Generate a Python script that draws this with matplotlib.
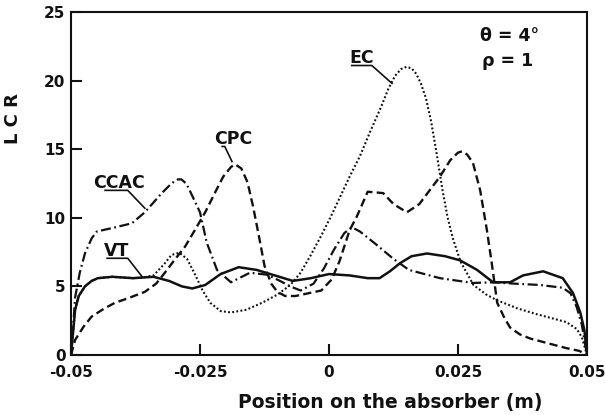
import numpy as np
import matplotlib
matplotlib.use("Agg")
import matplotlib.pyplot as plt

# values (theta = 4 deg, rho = 1)

vt_x = [-0.05, -0.0492, -0.0485, -0.0473, -0.046, -0.0448, -0.042, -0.038, -0.036, -0.034,
        -0.031, -0.0285, -0.0265, -0.024, -0.021, -0.0175, -0.014, -0.0105, -0.007, -0.0035,
        0.0, 0.004, 0.0075, 0.0098, 0.0118, 0.0138, 0.016, 0.019, 0.0225, 0.0254, 0.0287,
        0.0318, 0.0351, 0.0376, 0.0415, 0.0453, 0.0473, 0.0487, 0.0495, 0.05]
vt_y = [0, 3.3, 4.3, 5.0, 5.4, 5.6, 5.7, 5.6, 5.65, 5.7,
        5.4, 5.0, 4.85, 5.1, 5.9, 6.4, 6.2, 5.8, 5.4, 5.6,
        5.9, 5.8, 5.6, 5.6, 6.1, 6.7, 7.2, 7.4, 7.2, 6.9, 6.2,
        5.3, 5.3, 5.8, 6.1, 5.6, 4.5, 3.1, 1.8, 0]

ccac_x = [-0.05, -0.0495, -0.0492, -0.0483, -0.0473, -0.046, -0.045, -0.0415, -0.0382, -0.0357,
          -0.0324, -0.0308, -0.030, -0.0293, -0.0286, -0.0277, -0.027, -0.025, -0.0237, -0.0217,
          -0.019, -0.0153, -0.012, -0.0095, -0.0075, -0.0055, -0.003, -0.001, 0.001, 0.003,
          0.0045, 0.006, 0.009, 0.0125, 0.0155, 0.0185, 0.0215, 0.0279, 0.032, 0.036,
          0.041, 0.0453, 0.0468, 0.048, 0.049, 0.05]
ccac_y = [0, 2.5, 4.2, 6.0, 7.4, 8.5, 9.0, 9.3, 9.6, 10.4,
          11.8, 12.4, 12.65, 12.8, 12.8, 12.5, 12.0, 10.4, 8.2, 6.2,
          5.3, 6.0, 5.85, 5.4, 5.0, 4.7, 5.2, 6.3, 7.7, 8.9,
          9.3, 9.0, 8.1, 7.0, 6.2, 5.9, 5.6, 5.25, 5.3, 5.2,
          5.1, 4.9, 4.5, 3.5, 2.2, 0]

cpc_x = [-0.05, -0.0492, -0.0475, -0.046, -0.0435, -0.0415, -0.0385, -0.0357, -0.0335, -0.0318,
         -0.03, -0.0279, -0.026, -0.024, -0.022, -0.0205, -0.019, -0.0182, -0.017, -0.0158,
         -0.0147, -0.0135, -0.0125, -0.0112, -0.010, -0.0085, -0.0065, -0.004, -0.0015, 0.0005,
         0.002, 0.004, 0.0054, 0.0075, 0.0105, 0.0125, 0.0151, 0.0175, 0.0215, 0.0235,
         0.025, 0.0258, 0.0268, 0.0279, 0.0293, 0.0306, 0.0315, 0.0326, 0.034, 0.0351,
         0.037, 0.039, 0.043, 0.046, 0.0485, 0.05]
cpc_y = [0, 1.1, 2.1, 2.8, 3.4, 3.8, 4.2, 4.6, 5.2, 6.0,
         6.9, 7.9, 9.1, 10.4, 11.9, 13.0, 13.7, 13.9, 13.6, 12.6,
         10.8, 8.5, 6.5, 5.2, 4.6, 4.3, 4.3, 4.5, 4.7, 5.5,
         6.8, 9.1, 10.1, 11.9, 11.8, 11.0, 10.4, 11.0, 13.0, 14.2,
         14.75, 14.85, 14.6, 14.0, 12.0, 9.1, 6.8, 3.8, 2.7, 2.0,
         1.5, 1.2, 0.8, 0.5, 0.3, 0]

ec_x = [-0.05, -0.0492, -0.0485, -0.0473, -0.046, -0.0448, -0.042, -0.038, -0.036, -0.034,
        -0.032, -0.0305, -0.029, -0.0275, -0.026, -0.0245, -0.023, -0.021, -0.019, -0.016,
        -0.013, -0.010, -0.0075, -0.0055, -0.0035, -0.0015, 0.0005, 0.002, 0.004, 0.006,
        0.008, 0.010, 0.0115, 0.0128, 0.014, 0.015, 0.016, 0.0169, 0.0178, 0.0188,
        0.0198, 0.0209, 0.022, 0.023, 0.024, 0.0255, 0.028, 0.0305, 0.0325, 0.0365,
        0.040, 0.043, 0.046, 0.048, 0.049, 0.05]
ec_y = [0, 3.3, 4.3, 5.0, 5.4, 5.6, 5.7, 5.6, 5.65, 5.8,
        6.6, 7.3, 7.45, 7.0, 5.9, 4.7, 3.8, 3.2, 3.1, 3.3,
        3.8, 4.4, 5.1, 6.0, 7.3, 8.7, 10.2, 11.4, 13.0, 14.5,
        16.3, 18.0, 19.4, 20.35, 20.85, 21.0, 20.9, 20.5, 19.8, 18.7,
        17.0, 14.6, 12.0, 10.0, 8.5, 6.8, 5.1, 4.4, 4.0, 3.4,
        3.0, 2.7, 2.4, 1.9, 1.3, 0]

x_ticks = [-0.05, -0.025, 0, 0.025, 0.05]
x_ticklabels = ["-0.05", "-0.025", "0", "0.025", "0.05"]
y_ticks = [0, 5, 10, 15, 20, 25]

plt.rcParams["font.weight"] = "bold"
plt.rcParams["axes.labelweight"] = "bold"

fig = plt.figure(figsize=(6.05, 4.15), dpi=100)
ax = fig.add_axes([71 / 605, 60 / 415, 516 / 605, 343 / 415])

ink = "#111111"
ax.plot(vt_x, vt_y, color=ink, lw=1.8, solid_joinstyle="round")
ax.plot(ccac_x, ccac_y, color=ink, lw=1.6, linestyle=(0, (4.5, 1.6, 0.8, 1.6)))
ax.plot(cpc_x, cpc_y, color=ink, lw=1.7, linestyle=(0, (3.5, 1.8)))
ax.plot(ec_x, ec_y, color=ink, lw=1.5, linestyle=(0, (0.9, 1.1)))

ax.set_xlim(-0.05, 0.05)
ax.set_ylim(0, 25)
ax.set_xticks(x_ticks)
ax.set_xticklabels(x_ticklabels)
ax.set_yticks(y_ticks)
ax.tick_params(direction="in", length=8, width=1.5, labelsize=11, colors=ink)
ax.tick_params(axis="x", pad=7)
ax.tick_params(axis="y", pad=4)
for s in ax.spines.values():
    s.set_linewidth(1.5)
    s.set_color(ink)

ax.set_xlabel("Position on the absorber (m)", fontsize=13.5, color=ink)
ax.xaxis.set_label_coords(0.618, -0.11)
ax.set_ylabel("L C R", fontsize=13, color=ink)
ax.yaxis.set_label_coords(-0.095, 0.69)

# curve labels with underline + leader line
labels = [
    ("CCAC", -0.0407, 12.2, [-0.0434, -0.039, -0.0357], [12.0, 12.0, 10.7]),
    ("CPC", -0.0186, 15.4, [-0.0207, -0.0202, -0.0188], [15.2, 15.2, 14.1]),
    ("EC", 0.0064, 21.3, [0.0044, 0.0083, 0.0122], [21.1, 21.1, 19.8]),
    ("VT", -0.0412, 7.2, [-0.0430, -0.0390, -0.0362], [7.05, 7.05, 5.7]),
]
for name, tx, ty, lx, ly in labels:
    ax.text(tx, ty, name, ha="center", va="baseline", fontsize=12.5, color=ink)
    ax.plot(lx, ly, color=ink, lw=1.2)

ax.text(0.0293, 22.9, "θ = 4°", fontsize=12.5, color=ink, va="baseline")
ax.text(0.0297, 21.05, "ρ = 1", fontsize=12.5, color=ink, va="baseline")

fig.savefig("out.png", dpi=100)
